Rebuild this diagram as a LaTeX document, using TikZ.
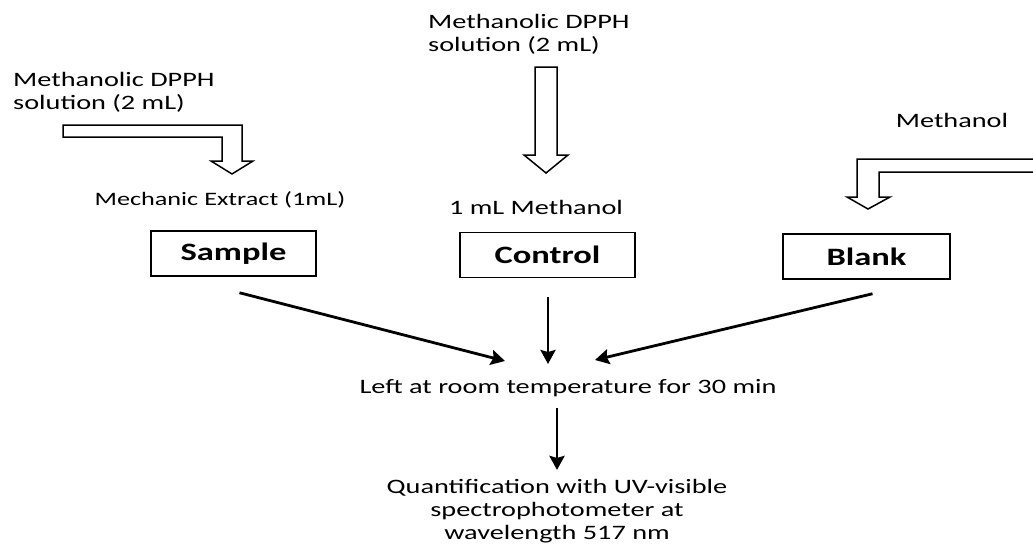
\documentclass[tikz,border=0pt]{standalone}
\usepackage{fontspec}
\setmainfont{Carlito}[FakeStretch=1.38]
\usetikzlibrary{arrows.meta}

\tikzset{
  lbl/.style={inner sep=0pt, font=\fontsize{20.5}{23}\selectfont},
  stepbox/.style={draw, line width=1.5pt, minimum height=45pt, inner sep=0pt,
    font=\fontsize{25}{28}\selectfont\bfseries},
  blockarrow/.style={draw, line width=1.5pt, line join=miter, fill=white},
  flow/.style={line width=2.8pt, -{Stealth[length=14pt, width=15pt, inset=2pt]}}
}

\begin{document}
\begin{tikzpicture}[x=1pt, y=-1pt]
  \clip (0,0) rectangle (1033,544);
  \fill[white] (0,0) rectangle (1033,544);

  % was gegeben wird
  \node[lbl, anchor=west, align=left] (dpphS) at (13,92) {Methanolic DPPH\\solution (2 mL)};
  \node[lbl, anchor=west, align=left] (dpphC) at (428,34) {Methanolic DPPH\\solution (2 mL)};
  \node[lbl] (methB) at (952,120) {Methanol};

  % Blockpfeile
  \draw[blockarrow] (63,125) -- (242,125) -- (242,161) -- (253,161) -- (232,174)
    -- (211,161) -- (222,161) -- (222,137) -- (63,137) -- cycle;
  \draw[blockarrow] (535,67) -- (557,67) -- (557,155) -- (568,155) -- (546,173)
    -- (524,155) -- (535,155) -- cycle;
  \draw[blockarrow] (1040,159) -- (857,159) -- (857,197) -- (847,197) -- (868,209)
    -- (890,197) -- (879,197) -- (879,172) -- (1040,172);

  % Ansaetze
  \node[lbl, font=\fontsize{19}{23}\selectfont] (extract) at (220,200) {Mechanic Extract (1mL)};
  \node[lbl] (meoh) at (536,207) {1 mL Methanol};
  \node[stepbox, minimum width=165pt] (sample) at (233.5,253.5) {Sample};
  \node[stepbox, minimum width=175pt] (control) at (547.5,255) {Control};
  \node[stepbox, minimum width=167pt] (blank) at (866.5,256.5) {Blank};

  % Inkubation und Messung
  \node[lbl] (rest) at (568,388) {Left at room temperature for 30 min};
  \node[lbl, align=center] (measure) at (557,511)
    {Quantification with UV-visible\\spectrophotometer at\\wavelength 517 nm};

  \coordinate (inS) at (505,361);
  \coordinate (inC) at (548,364);
  \coordinate (inB) at (595,360);
  \draw[flow] ([xshift=6pt, yshift=-16pt]sample.south) -- (inS);
  \draw[flow] ([xshift=0.5pt, yshift=-19pt]control.south) -- (inC);
  \draw[flow] ([xshift=6pt, yshift=-14pt]blank.south) -- (inB);
  \draw[flow, shorten <=11pt, shorten >=9pt] (rest.south -| measure.north) -- (measure.north);
\end{tikzpicture}
\end{document}
